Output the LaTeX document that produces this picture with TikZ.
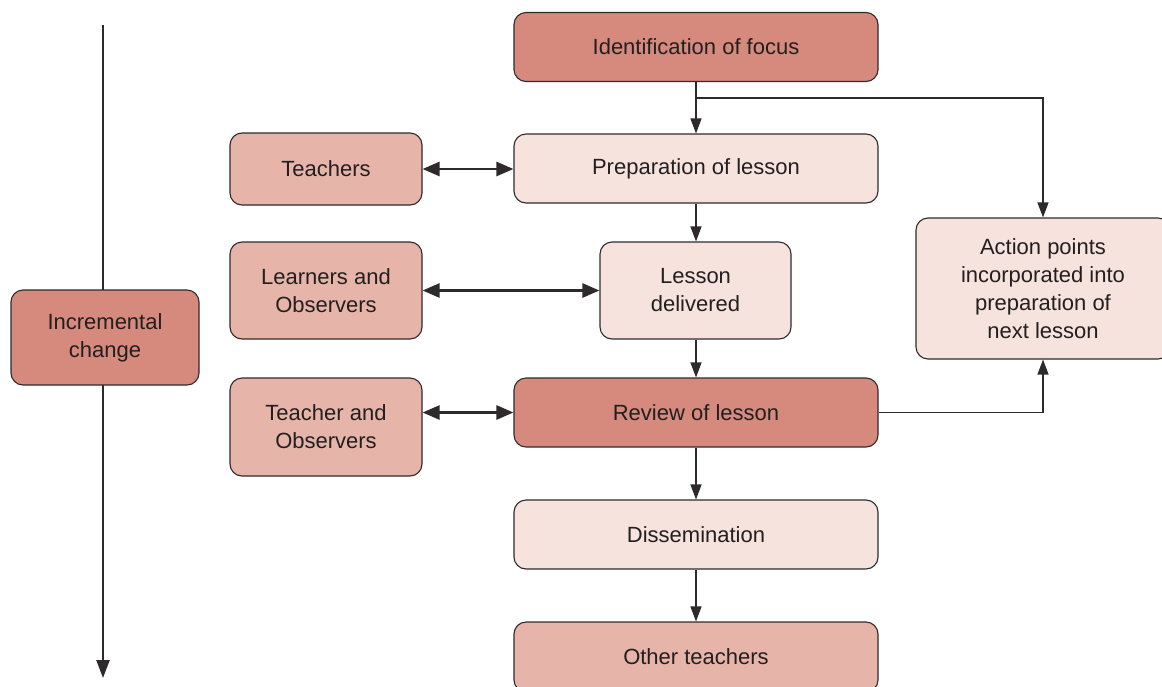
\documentclass[tikz,border=0pt]{standalone}
\usepackage{fontspec}
\setmainfont{Liberation Sans}
\usetikzlibrary{arrows.meta}
\definecolor{darkf}{HTML}{D58A7D}
\definecolor{medf}{HTML}{E6B4A8}
\definecolor{lightf}{HTML}{F6E3DD}
\definecolor{edge}{HTML}{2E2A2B}
\definecolor{txt}{HTML}{231F20}
\begin{document}
\begin{tikzpicture}[x=1pt,y=-1pt,
  box/.style={draw=edge,line width=1.1pt,rounded corners=12pt,align=center,
    text=txt,font=\fontsize{22}{28}\selectfont,inner sep=0pt},
  dk/.style={box,fill=darkf},
  md/.style={box,fill=medf},
  lt/.style={box,fill=lightf},
  arr/.style={draw=edge,line width=1.2pt,-{Triangle[length=15pt,width=11pt]}},
  darr/.style={draw=edge,line width=2.6pt,{Triangle[length=17pt,width=14pt]}-{Triangle[length=17pt,width=14pt]}},
  bigarr/.style={draw=edge,line width=2.5pt,-{Triangle[length=18pt,width=13pt]}}]
\useasboundingbox (0,0) rectangle (1162,686);
\coordinate (vtop) at (103,25);
\coordinate (vbot) at (103,678);
\draw[bigarr] (vtop) -- (vbot);
\node[dk,minimum width=364pt,minimum height=69pt] (focus) at (696,47) {Identification of focus};
\node[lt,minimum width=364pt,minimum height=69pt] (prep) at (696,168.5) {Preparation of lesson};
\node[md,minimum width=192pt,minimum height=72pt] (teach) at (326,169) {Teachers};
\node[md,minimum width=192pt,minimum height=97pt] (learn) at (326,290.5) {Learners and\\Observers};
\node[lt,minimum width=191pt,minimum height=97pt] (deliv) at (695.5,290.5) {Lesson\\delivered};
\node[dk,minimum width=188pt,minimum height=95pt] (incr) at (105,337.5) {Incremental\\change};
\node[md,minimum width=192pt,minimum height=98pt] (tobs) at (326,427) {Teacher and\\Observers};
\node[dk,minimum width=364pt,minimum height=69pt] (review) at (696,412.5) {Review of lesson};
\node[lt,minimum width=254pt,minimum height=141pt] (action) at (1043,288.5) {Action points\\incorporated into\\preparation of\\next lesson};
\node[lt,minimum width=364pt,minimum height=69pt] (dissem) at (696,534.5) {Dissemination};
\node[md,minimum width=364pt,minimum height=70pt] (other) at (696,657) {Other teachers};
\coordinate (br) at (696,98);
\draw[arr] (focus.south) -- (prep.north);
\draw[arr] (br) -| (action.north);
\draw[arr] (prep.south) -- (prep.south |- deliv.north);
\draw[arr] (deliv.south -| review.north) -- (review.north);
\draw[arr] (review.south) -- (dissem.north);
\draw[arr] (dissem.south) -- (other.north);
\draw[arr] (review.east) -| (action.south);
\draw[darr] (teach.east) -- (teach.east -| prep.west);
\draw[darr] (learn.east) -- (deliv.west);
\draw[darr] (tobs.east |- review.west) -- (review.west);
\end{tikzpicture}
\end{document}
